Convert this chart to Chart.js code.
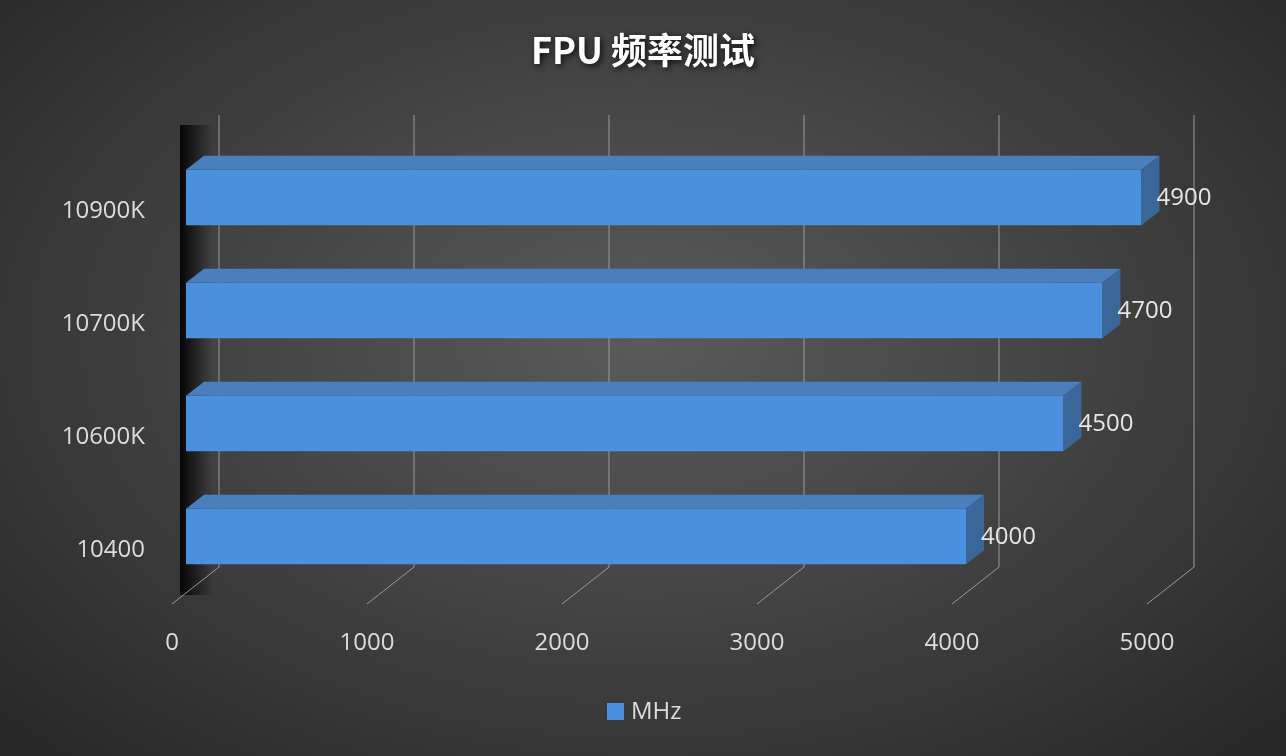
<!DOCTYPE html>
<html><head><meta charset="utf-8">
<script src="https://cdn.jsdelivr.net/npm/chart.js@4"></script>
<style>
html,body{margin:0;padding:0;width:1286px;height:756px;overflow:hidden;
background:radial-gradient(ellipse at 50% 45%,#5a5a5a 0%,#444 45%,#262626 100%);}
#c{display:block}
</style></head><body>
<canvas id="c" width="1286" height="756"></canvas>
<script>
const categories=["10900K","10700K","10600K","10400"];
const values=[4900,4700,4500,4000];
const xTicks=[0,1000,2000,3000,4000,5000];
const seriesName="MHz";
const titleText="FPU 频率测试";
const DX=18,DY=14;

const deco={id:'deco',
beforeDatasetsDraw(ch){
  const c=ch.ctx,xs=ch.scales.x,a=ch.chartArea;
  c.save();
  // left wall shadow
  const g=c.createLinearGradient(180,0,212,0);
  g.addColorStop(0,'rgba(0,0,0,0.9)');g.addColorStop(1,'rgba(0,0,0,0)');
  c.fillStyle=g;c.fillRect(180,125,32,470);
  c.strokeStyle='#9a9a9a';c.lineWidth=1;
  xTicks.forEach(v=>{const x=xs.getPixelForValue(v);
    c.beginPath();c.moveTo(x+33,115);c.lineTo(x+33,567);c.lineTo(x-14,604);c.stroke();});
  c.restore();
},
afterDatasetsDraw(ch){
  const c=ch.ctx,xs=ch.scales.x,meta=ch.getDatasetMeta(0);
  c.save();
  meta.data.forEach((el,i)=>{
    const x0=el.base,x1=el.x,yt=el.y-el.height/2,yb=el.y+el.height/2;
    c.fillStyle='#4a7fbb';
    c.beginPath();c.moveTo(x0,yt);c.lineTo(x1,yt);c.lineTo(x1+DX,yt-DY);c.lineTo(x0+DX,yt-DY);c.closePath();c.fill();
    c.fillStyle='#3a6699';
    c.beginPath();c.moveTo(x1,yt);c.lineTo(x1+DX,yt-DY);c.lineTo(x1+DX,yb-DY);c.lineTo(x1,yb);c.closePath();c.fill();
    c.fillStyle='#e6e6e6';c.font='24px "Open Sans", "DejaVu Sans", sans-serif';
    c.textAlign='left';c.textBaseline='middle';
    c.fillText(String(values[i]),x1+15,el.y+1);
    c.textAlign='right';c.fillStyle='#dcdcdc';
    c.fillText(categories[i],145,el.y+14);
  });
  c.textAlign='center';c.textBaseline='middle';c.fillStyle='#dcdcdc';
  xTicks.forEach(v=>c.fillText(String(v),xs.getPixelForValue(v)-14,643));
  // legend
  c.fillStyle='#4a90dc';c.fillRect(607,703,17,17);
  c.fillStyle='#dcdcdc';c.textAlign='left';c.fillText(seriesName,631,712);
  // title
  c.font='bold 36px "Noto Sans CJK SC", sans-serif';c.textAlign='center';
  c.shadowColor='rgba(0,0,0,0.8)';c.shadowBlur=6;c.shadowOffsetX=2;c.shadowOffsetY=2;
  c.fillStyle='#ffffff';c.fillText(titleText,643,50);
  c.restore();
}};

new Chart(document.getElementById('c'),{
  type:'bar',
  data:{labels:categories,datasets:[{label:seriesName,data:values,
    backgroundColor:(ctx)=>{const ch=ctx.chart,a=ch.chartArea;if(!a)return '#4a90dc';
      const el=ctx.element; const g=ch.ctx.createLinearGradient(0,a.top,0,a.bottom);
      return '#4a90dc';},
    borderWidth:0,barPercentage:0.49,categoryPercentage:1}]},
  options:{indexAxis:'y',responsive:false,animation:false,
    layout:{padding:{left:186,right:125,top:141,bottom:163}},
    plugins:{legend:{display:false},title:{display:false},tooltip:{enabled:false}},
    scales:{x:{min:0,max:5000,display:false},y:{display:false}}},
  plugins:[deco]
});
</script></body></html>
